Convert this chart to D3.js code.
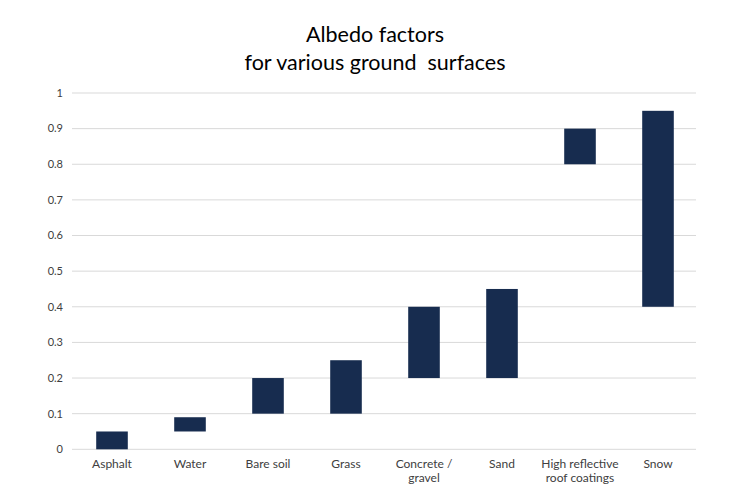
<!DOCTYPE html>
<html><head><meta charset="utf-8">
<script src="https://cdn.jsdelivr.net/npm/d3@7"></script>
<style>body{margin:0;background:#fff}svg{display:block}text{font-family:Lato,"Open Sans",sans-serif}</style>
</head><body><div id="chart"></div>
<script>
const categories = ["Asphalt","Water","Bare soil","Grass","Concrete / gravel","Sand","High reflective roof coatings","Snow"];
const categoryLines = [["Asphalt"],["Water"],["Bare soil"],["Grass"],["Concrete /","gravel"],["Sand"],["High reflective","roof coatings"],["Snow"]];
const lowValues = [0, 0.05, 0.1, 0.1, 0.2, 0.2, 0.8, 0.4];
const highValues = [0.05, 0.09, 0.2, 0.25, 0.4, 0.45, 0.9, 0.95];
const yTicks = [0,0.1,0.2,0.3,0.4,0.5,0.6,0.7,0.8,0.9,1];
const titleLines = ["Albedo factors","for various ground  surfaces"];

const W=750,H=500, mLeft=72, mRight=696, mTop=93, mBottom=449.3;
const svg=d3.select("#chart").append("svg").attr("width",W).attr("height",H);
const x=d3.scaleBand().domain(categories).range([mLeft+1,mRight+1]).paddingInner(0.595).paddingOuter(0.2975);
const y=d3.scaleLinear().domain([0,1]).range([mBottom,mTop]);

svg.append("g").selectAll("line").data(yTicks).join("line")
  .attr("x1",mLeft).attr("x2",mRight).attr("y1",d=>y(d)).attr("y2",d=>y(d))
  .attr("stroke","#d9d9d9").attr("stroke-width",1);
svg.append("g").selectAll("text").data(yTicks).join("text")
  .attr("x",63).attr("y",d=>y(d)).attr("dy","0.35em").attr("text-anchor","end")
  .attr("font-size",11).attr("fill","#404040").text(d=>d3.format("~g")(d));

svg.append("g").selectAll("rect").data(categories).join("rect")
  .attr("x",d=>x(d)).attr("width",x.bandwidth())
  .attr("y",(d,i)=>y(highValues[i])).attr("height",(d,i)=>y(lowValues[i])-y(highValues[i]))
  .attr("fill","#172c4f");

const cl=svg.append("g").selectAll("text").data(categories).join("text")
  .attr("x",d=>x(d)+x.bandwidth()/2).attr("y",468).attr("text-anchor","middle")
  .attr("font-size",12).attr("fill","#404040");
cl.selectAll("tspan").data((d,i)=>categoryLines[i].map((t,j)=>({t,j}))).join("tspan")
  .attr("x",function(){return this.parentNode.getAttribute("x");})
  .attr("dy",d=>d.j===0?0:"1.2em").text(d=>d.t);

svg.append("g").selectAll("text").data(titleLines).join("text")
  .attr("x",375).attr("y",(d,i)=>42+i*27.5).attr("text-anchor","middle")
  .attr("font-size",21.5).attr("fill","#000").style("white-space","pre").text(d=>d);
</script></body></html>
